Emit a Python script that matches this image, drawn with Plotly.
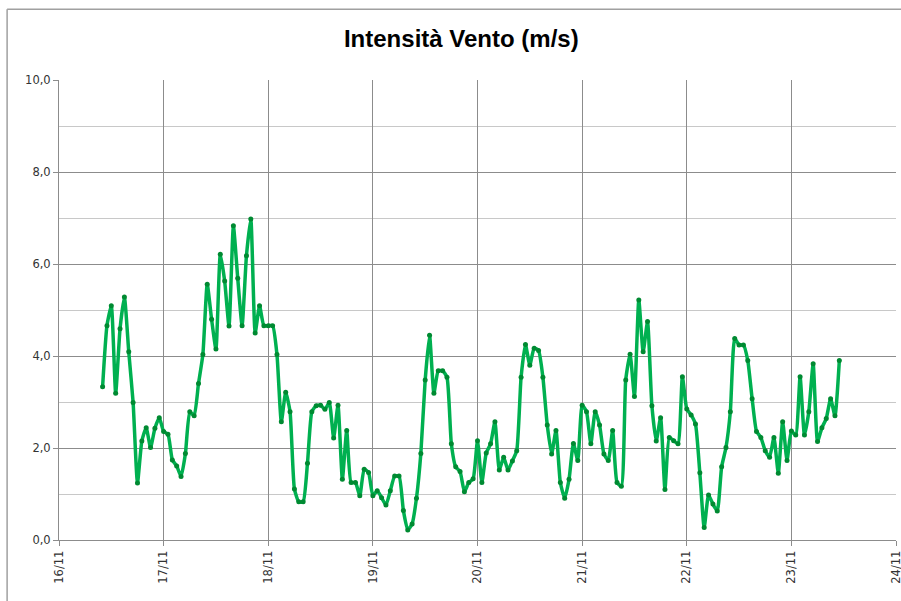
import pandas as pd
import plotly.graph_objects as go

# Hourly wind speed, starting 16/11 10:00
start_time = "2013-11-16 10:00"
wind_speed = [
    3.33, 4.66, 5.09, 3.19, 4.59, 5.28, 4.09, 2.99, 1.24, 2.15, 2.44, 2.01, 2.43, 2.66,
    2.36, 2.30, 1.74, 1.61, 1.38, 1.88, 2.79, 2.70, 3.40, 4.03, 5.56, 4.80, 4.15, 6.21,
    5.63, 4.65, 6.83, 5.69, 4.66, 6.18, 6.98, 4.50, 5.09, 4.66, 4.66, 4.66, 4.03, 2.57,
    3.21, 2.79, 1.11, 0.83, 0.83, 1.67, 2.79, 2.92, 2.93, 2.84, 2.99, 2.22, 2.93, 1.32,
    2.38, 1.25, 1.25, 0.96, 1.54, 1.47, 0.96, 1.07, 0.92, 0.76, 1.07, 1.39, 1.39, 0.64,
    0.22, 0.35, 0.91, 1.88, 3.48, 4.45, 3.19, 3.68, 3.68, 3.54, 2.09, 1.59, 1.49, 1.05,
    1.25, 1.33, 2.16, 1.25, 1.89, 2.09, 2.57, 1.52, 1.80, 1.52, 1.72, 1.94, 3.54, 4.25,
    3.80, 4.17, 4.12, 3.54, 2.50, 1.87, 2.38, 1.25, 0.91, 1.32, 2.10, 1.73, 2.93, 2.79,
    2.09, 2.79, 2.50, 1.87, 1.73, 2.38, 1.25, 1.17, 3.48, 4.04, 3.12, 5.22, 4.09, 4.75,
    2.92, 2.15, 2.66, 1.10, 2.23, 2.16, 2.09, 3.55, 2.85, 2.72, 2.52, 1.46, 0.27, 0.98,
    0.78, 0.63, 1.59, 2.01, 2.79, 4.38, 4.24, 4.24, 3.90, 3.07, 2.36, 2.23, 1.94, 1.80,
    2.23, 1.45, 2.57, 1.73, 2.37, 2.28, 3.55, 2.28, 2.79, 3.83, 2.14, 2.44, 2.64, 3.07,
    2.70, 3.90,
]
x_range = ["2013-11-16", "2013-11-24"]
y_range = [0, 10]
title_text = "Intensità Vento (m/s)"

times = pd.date_range(start=start_time, periods=len(wind_speed), freq="h")

fig = go.Figure()
fig.add_trace(go.Scatter(
    x=times, y=wind_speed, mode="lines+markers",
    line=dict(color="#00B050", width=3.5, shape="spline", smoothing=0.5),
    marker=dict(color="#008A32", size=5),
    hoverinfo="x+y", showlegend=False, cliponaxis=False,
))

tick_font = dict(family="DejaVu Sans, Verdana, sans-serif", size=11.5, color="#333333")

fig.update_layout(
    width=901, height=601,
    margin=dict(l=59, r=5, t=80, b=61),
    paper_bgcolor="white", plot_bgcolor="white",
    separators=",.",
    title=dict(text="<b>" + title_text + "</b>",
               font=dict(family="Liberation Sans, Arial, sans-serif",
                         size=24, color="#000000"),
               xref="container", x=0.512, xanchor="center",
               yref="container", y=0.935, yanchor="middle"),
    xaxis=dict(type="date", range=x_range, dtick=86400000, tickformat="%d/%m",
               tickangle=-90, tickfont=tick_font, automargin=False,
               ticklabeloverflow="allow",
               showgrid=True, gridcolor="#8c8c8c", gridwidth=1,
               showline=True, linecolor="#8c8c8c", linewidth=1,
               ticks="outside", ticklen=5, tickcolor="#8c8c8c",
               zeroline=False),
    yaxis=dict(range=y_range, dtick=2, tickformat=".1f", tickfont=tick_font,
               automargin=False, ticklabeloverflow="allow",
               showgrid=True, gridcolor="#8c8c8c", gridwidth=1,
               minor=dict(dtick=1, showgrid=True, gridcolor="#c8c8c8", gridwidth=1),
               showline=True, linecolor="#8c8c8c", linewidth=1,
               ticks="outside", ticklen=5, tickcolor="#8c8c8c",
               zeroline=False),
    shapes=[
        dict(type="line", xref="paper", yref="paper", x0=-0.062, x1=1.02,
             y0=1.154, y1=1.154, line=dict(color="#a0a0a0", width=1.5)),
        dict(type="line", xref="paper", yref="paper", x0=-0.062, x1=-0.062,
             y0=1.154, y1=-0.2, line=dict(color="#a0a0a0", width=1.5)),
    ],
)

fig.write_html("out.html", config={"displayModeBar": False},
               post_script="document.body.style.margin='0';")
